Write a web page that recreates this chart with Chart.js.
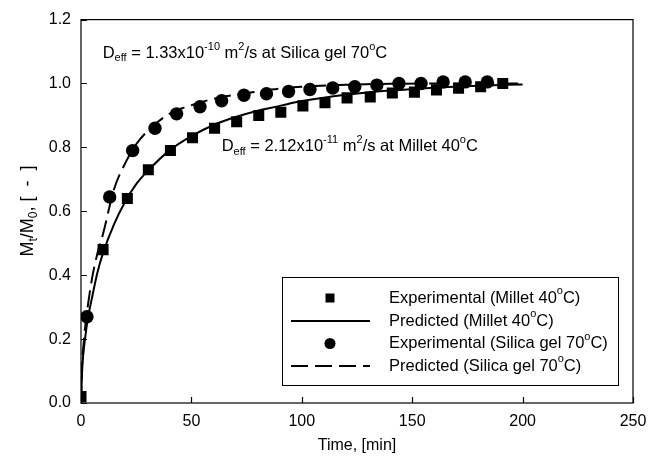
<!DOCTYPE html>
<html>
<head>
<meta charset="utf-8">
<script src="https://cdn.jsdelivr.net/npm/chart.js@4"></script>
<style>
  html, body { margin: 0; padding: 0; background: #fff; }
  #wrap { width: 660px; height: 466px; }
</style>
</head>
<body>
<div id="wrap"><canvas id="dryChart" width="660" height="466"></canvas></div>
<script>
// Datos
const milletTime = [0, 10, 21, 30.5, 40.5, 50.5, 60.5, 70.5, 80.5, 90.5, 100.5, 110.5, 120.5, 131, 141, 151, 161, 171, 181, 191];
const milletExp = [0.02, 0.48, 0.64, 0.73, 0.79, 0.83, 0.86, 0.88, 0.90, 0.91, 0.93, 0.94, 0.955, 0.958, 0.97, 0.973, 0.98, 0.985, 0.99, 1.0];

const silicaTime = [2.7, 13, 23.4, 33.5, 43.3, 53.9, 63.7, 73.8, 84, 94, 103.7, 114, 124, 134, 144, 154, 164, 174, 184];
const silicaExp = [0.27, 0.645, 0.79, 0.86, 0.905, 0.927, 0.946, 0.963, 0.968, 0.975, 0.981, 0.986, 0.99, 0.995, 1.0, 1.0, 1.005, 1.005, 1.005];

const predTime = [0, 0.5, 1, 2, 3, 5, 7.5, 10, 15, 20, 25, 30, 40, 50, 60, 70, 80, 90, 100, 120, 140, 160, 180, 200];
const milletPred = [0, 0.1, 0.15, 0.21, 0.26, 0.33, 0.41, 0.47, 0.56, 0.63, 0.685, 0.725, 0.79, 0.835, 0.87, 0.895, 0.915, 0.93, 0.945, 0.965, 0.978, 0.987, 0.993, 0.997];
const silicaPred = [0, 0.12, 0.17, 0.245, 0.30, 0.39, 0.47, 0.53, 0.67, 0.75, 0.81, 0.85, 0.905, 0.932, 0.952, 0.965, 0.975, 0.984, 0.99, 0.996, 0.999, 1.0, 1.0, 1.0];

const xTicks = [0, 50, 100, 150, 200, 250];
const yTicks = [0, 0.2, 0.4, 0.6, 0.8, 1.0, 1.2];

const legendLabels = [
    'Experimental (Millet 40^{o}C)',
    'Predicted (Millet 40^{o}C)',
    'Experimental (Silica gel 70^{o}C)',
    'Predicted (Silica gel 70^{o}C)'
];

const notes = [
    { text: 'D_{eff} = 1.33x10^{-10} m^{2}/s at Silica gel 70^{o}C', x: 9.8, y: 1.095 },
    { text: 'D_{eff} = 2.12x10^{-11} m^{2}/s at Millet 40^{o}C', x: 63.7, y: 0.803 }
];

const FONT = '"Liberation Sans", Arial, Helvetica, sans-serif';

function toXY(xs, ys) {
    return xs.map((x, i) => ({ x: x, y: ys[i] }));
}

// texto con subíndices y superíndices: _{..} y ^{..}
function parseRich(str) {
    const segs = [];
    let i = 0, buf = '';
    while (i < str.length) {
        const c = str[i];
        if ((c === '_' || c === '^') && str[i + 1] === '{') {
            if (buf) { segs.push({ t: buf, k: 'n' }); buf = ''; }
            const end = str.indexOf('}', i);
            segs.push({ t: str.slice(i + 2, end), k: c === '_' ? 'sub' : 'sup' });
            i = end + 1;
        } else {
            buf += c;
            i++;
        }
    }
    if (buf) segs.push({ t: buf, k: 'n' });
    return segs;
}

function richWidth(ctx, str, size) {
    let w = 0;
    parseRich(str).forEach(s => {
        ctx.font = (s.k === 'n' ? size : Math.round(size * 0.68)) + 'px ' + FONT;
        w += ctx.measureText(s.t).width;
    });
    return w;
}

function drawRich(ctx, str, x, y, size) {
    ctx.save();
    ctx.textBaseline = 'middle';
    ctx.textAlign = 'left';
    ctx.fillStyle = '#000';
    let cx = x;
    parseRich(str).forEach(s => {
        let dy = 0, fs = size;
        if (s.k === 'sub') { fs = Math.round(size * 0.68); dy = size * 0.32; }
        if (s.k === 'sup') { fs = Math.round(size * 0.68); dy = -size * 0.4; }
        ctx.font = fs + 'px ' + FONT;
        ctx.fillText(s.t, cx, y + dy);
        cx += ctx.measureText(s.t).width;
    });
    ctx.restore();
}

const framePlugin = {
    id: 'frame',
    afterDraw(chart) {
        const ctx = chart.ctx;
        const a = chart.chartArea;
        const xs = chart.scales.x, ys = chart.scales.y;

        ctx.save();
        ctx.strokeStyle = '#000';
        ctx.lineWidth = 1.2;
        ctx.strokeRect(a.left, a.top, a.right - a.left, a.bottom - a.top);

        // marcas hacia dentro
        ctx.beginPath();
        xTicks.forEach(v => {
            const px = Math.round(xs.getPixelForValue(v)) + 0.5;
            ctx.moveTo(px, a.bottom);
            ctx.lineTo(px, a.bottom - 6);
        });
        yTicks.forEach(v => {
            const py = Math.round(ys.getPixelForValue(v)) + 0.5;
            ctx.moveTo(a.left, py);
            ctx.lineTo(a.left + 6, py);
        });
        ctx.stroke();
        ctx.restore();

        // títulos de ejes
        ctx.save();
        ctx.fillStyle = '#000';
        ctx.font = '16px ' + FONT;
        ctx.textAlign = 'center';
        ctx.textBaseline = 'middle';
        ctx.fillText('Time, [min]', (a.left + a.right) / 2, 446);
        ctx.restore();

        const yTitle = 'M_{t}/M_{0}, [  -  ]';
        ctx.save();
        ctx.translate(28, 211);
        ctx.rotate(-Math.PI / 2);
        const w = richWidth(ctx, yTitle, 18);
        drawRich(ctx, yTitle, -w / 2, 0, 18);
        ctx.restore();

        // anotaciones
        notes.forEach(n => {
            drawRich(ctx, n.text, xs.getPixelForValue(n.x), ys.getPixelForValue(n.y), 16.5);
        });

        // leyenda
        const box = { left: 282, top: 277, right: 618, bottom: 385 };
        ctx.save();
        ctx.strokeStyle = '#000';
        ctx.lineWidth = 1;
        ctx.strokeRect(box.left + 0.5, box.top + 0.5, box.right - box.left, box.bottom - box.top);
        const rows = [298, 321, 343.5, 366];
        const ds = chart.data.datasets;
        rows.forEach((ry, i) => {
            const d = ds[i];
            ctx.fillStyle = '#000';
            ctx.strokeStyle = '#000';
            if (d.showLine === false) {
                if (d.pointStyle === 'rect') {
                    ctx.fillRect(330 - 4.5, ry - 4.5, 9, 9);
                } else {
                    ctx.beginPath();
                    ctx.arc(330, ry, 5.5, 0, Math.PI * 2);
                    ctx.fill();
                }
            } else {
                ctx.lineWidth = d.borderWidth;
                ctx.setLineDash(d.borderDash || []);
                ctx.beginPath();
                ctx.moveTo(291, ry);
                ctx.lineTo(370, ry);
                ctx.stroke();
                ctx.setLineDash([]);
            }
            drawRich(ctx, legendLabels[i], 389, ry, 16.5);
        });
        ctx.restore();
    }
};

document.addEventListener('DOMContentLoaded', function() {
    const ctx = document.getElementById('dryChart').getContext('2d');

    new Chart(ctx, {
        type: 'scatter',
        data: {
            datasets: [{
                label: legendLabels[0],
                data: toXY(milletTime, milletExp),
                showLine: false,
                pointStyle: 'rect',
                pointRadius: 7.8,
                backgroundColor: '#000',
                borderColor: '#000',
                borderWidth: 0,
                order: 1
            }, {
                label: legendLabels[1],
                data: toXY(predTime, milletPred),
                showLine: true,
                pointRadius: 0,
                borderColor: '#000',
                borderWidth: 2,
                cubicInterpolationMode: 'monotone',
                order: 3
            }, {
                label: legendLabels[2],
                data: toXY(silicaTime, silicaExp),
                showLine: false,
                pointStyle: 'circle',
                pointRadius: 6.7,
                backgroundColor: '#000',
                borderColor: '#000',
                borderWidth: 0,
                order: 0
            }, {
                label: legendLabels[3],
                data: toXY(predTime, silicaPred),
                showLine: true,
                pointRadius: 0,
                borderColor: '#000',
                borderWidth: 2,
                borderDash: [17, 7],
                cubicInterpolationMode: 'monotone',
                order: 2
            }]
        },
        options: {
            responsive: false,
            animation: false,
            layout: {
                padding: { left: 0, right: 27, top: 13, bottom: 0 }
            },
            plugins: {
                legend: { display: false },
                tooltip: { enabled: false }
            },
            scales: {
                x: {
                    type: 'linear',
                    min: 0,
                    max: 250,
                    afterFit: s => { s.height = 63; },
                    afterBuildTicks: s => { s.ticks = xTicks.map(v => ({ value: v })); },
                    grid: { display: false, drawTicks: false },
                    border: { display: false },
                    ticks: {
                        padding: 9,
                        color: '#000',
                        font: { family: FONT, size: 16 },
                        callback: v => String(v)
                    }
                },
                y: {
                    type: 'linear',
                    min: 0,
                    max: 1.2,
                    afterFit: s => { s.width = 81; },
                    afterBuildTicks: s => { s.ticks = yTicks.map(v => ({ value: v })); },
                    grid: { display: false, drawTicks: false },
                    border: { display: false },
                    ticks: {
                        padding: 10,
                        color: '#000',
                        font: { family: FONT, size: 16 },
                        callback: v => Number(v).toFixed(1)
                    }
                }
            }
        },
        plugins: [framePlugin]
    });
});
</script>
</body>
</html>
